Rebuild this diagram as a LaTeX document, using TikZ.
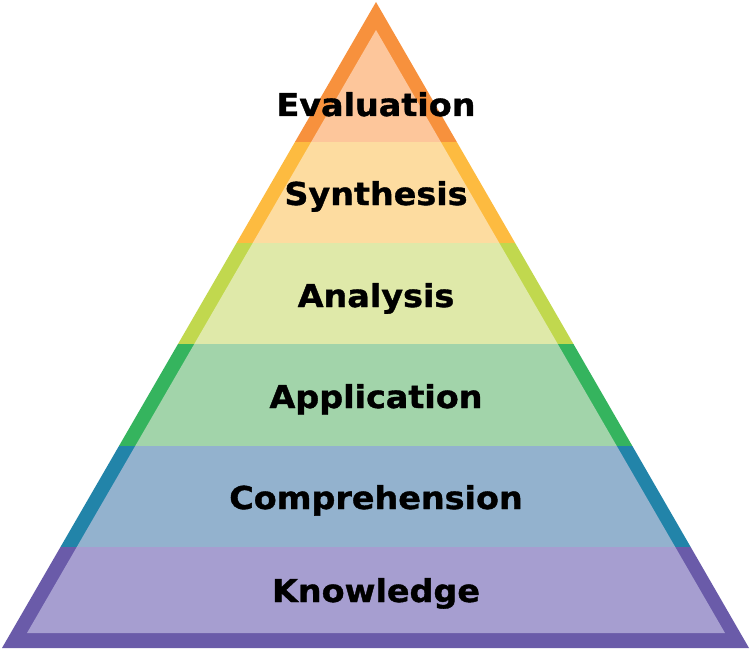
\documentclass[tikz,border=0pt]{standalone}
\usepackage{fontspec}
\setmainfont{DejaVu Sans}
\newfontfamily\lvlfont[FakeStretch=1.06,FakeBold=1.2]{DejaVu Sans Bold}
\definecolor{evO}{HTML}{F7913D}\definecolor{evI}{HTML}{FDC69B}
\definecolor{syO}{HTML}{FDBB40}\definecolor{syI}{HTML}{FDDCA0}
\definecolor{anO}{HTML}{C1D84E}\definecolor{anI}{HTML}{DFE9A9}
\definecolor{apO}{HTML}{35B45E}\definecolor{apI}{HTML}{A2D4AA}
\definecolor{coO}{HTML}{2284A9}\definecolor{coI}{HTML}{93B2CE}
\definecolor{knO}{HTML}{6A5BA9}\definecolor{knI}{HTML}{A69ED0}
\begin{document}
\begin{tikzpicture}[x=1pt,y=-1pt,
  lvl/.style={font=\lvlfont\fontsize{31.5}{31.5}\selectfont, text=black, inner sep=0pt, anchor=base}]
\useasboundingbox (0,0) rectangle (750,650);
\coordinate (oA) at (376,2);
\coordinate (oL) at (2,648);
\coordinate (oR) at (749,648);
\coordinate (iA) at (376,30);
\coordinate (iL) at (27,633);
\coordinate (iR) at (725,633);
\begin{scope}
\clip (oA) -- (oL) -- (oR) -- cycle;
\fill[evO] (0,0) rectangle (750,142);
\fill[syO] (0,142) rectangle (750,243);
\fill[anO] (0,243) rectangle (750,344);
\fill[apO] (0,344) rectangle (750,446);
\fill[coO] (0,446) rectangle (750,547);
\fill[knO] (0,547) rectangle (750,650);
\end{scope}
\begin{scope}
\clip (iA) -- (iL) -- (iR) -- cycle;
\fill[evI] (0,0) rectangle (750,142);
\fill[syI] (0,142) rectangle (750,243);
\fill[anI] (0,243) rectangle (750,344);
\fill[apI] (0,344) rectangle (750,446);
\fill[coI] (0,446) rectangle (750,547);
\fill[knI] (0,547) rectangle (750,650);
\end{scope}
\node[lvl] (ev) at (376,116) {Evaluation};
\node[lvl] (sy) at (376,205) {Synthesis};
\node[lvl] (an) at (376,307) {Analysis};
\node[lvl] (ap) at (376,408) {Application};
\node[lvl] (co) at (376,509) {Comprehension};
\node[lvl] (kn) at (376,602) {Knowledge};
\end{tikzpicture}
\end{document}
